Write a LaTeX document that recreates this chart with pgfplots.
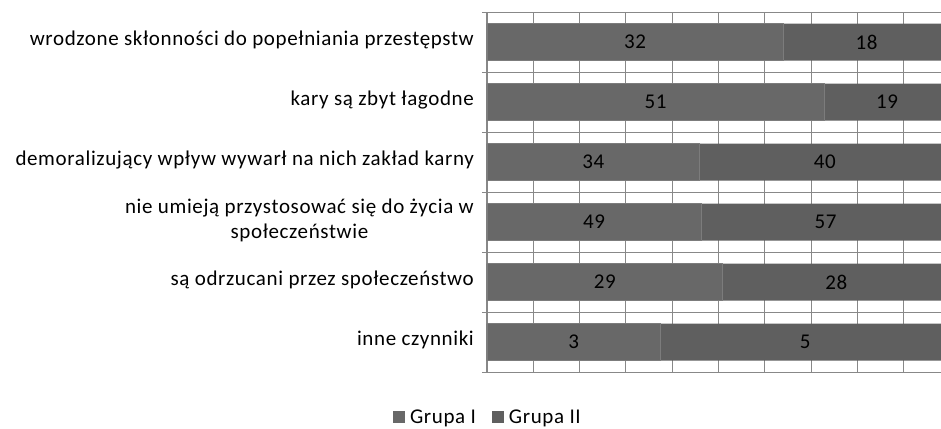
\documentclass[border=0pt]{standalone}
\usepackage{fontspec}
\setmainfont{Carlito}[LetterSpace=3]
\usepackage{pgfplots}
\pgfplotsset{compat=1.18}
\usepackage{pgfplotstable}
\definecolor{gA}{HTML}{686868}
\definecolor{gB}{HTML}{5F5F5F}
\definecolor{gridc}{HTML}{888888}
\definecolor{sepc}{HTML}{7C7C7C}

\pgfplotstableread{
y a b
5 32 18
4 51 19
3 34 40
2 49 57
1 29 28
0 3 5
}\data

\begin{document}
\begin{tikzpicture}
\begin{axis}[
  scale only axis, width=454pt, height=360pt,
  xmin=0, xmax=98.06, ymin=-0.5, ymax=5.5,
  /pgf/number format/assume math mode=true,
  axis y line*=left, axis x line*=bottom,
  x axis line style={draw=none},
  y axis line style={draw=gridc, line width=1.6pt},
  xtick={0,10,...,90}, xticklabels={},
  xmajorgrids,
  ytick={0,...,5},
  yticklabels={inne czynniki, są odrzucani przez społeczeństwo, {nie umieją przystosować się do życia w\\społeczeństwie}, demoralizujący wpływ wywarł na nich zakład karny, kary są zbyt łagodne, wrodzone skłonności do popełniania przestępstw},
  minor ytick={-0.5,0.5,...,5.5},
  yminorgrids,
  major tick length=0pt, minor tick length=5pt, tick align=outside,
  tick style={draw=gridc, line width=0.8pt},
  grid style={draw=gridc, line width=0.8pt},
  minor grid style={draw=gridc, line width=0.8pt},
  yticklabel style={align=center, inner sep=0pt, xshift=-13pt, yshift=2pt, font=\fontsize{21}{25}\selectfont},
  legend style={at={(0.002,-0.125)}, anchor=center, draw=none, fill=none, legend columns=2,
    font=\fontsize{21}{25}\selectfont,
    /tikz/every even column/.append style={column sep=14pt}},
  legend cell align=left,
]
\addplot[xbar, bar width=37pt, bar shift=0pt, fill=gB, draw=none, forget plot]
  table[x expr=100, y=y]{\data};
\addplot[xbar, bar width=37pt, bar shift=0pt, fill=gA, draw=sepc, line width=0.6pt, forget plot]
  table[x expr={\thisrow{a}/(\thisrow{a}+\thisrow{b})*100}, y=y]{\data};
\addplot[draw=none, mark=none, nodes near coords, point meta=explicit,
  nodes near coords style={anchor=center, text=black, font=\fontsize{21}{25}\selectfont}, forget plot]
  table[x expr={\thisrow{a}/(\thisrow{a}+\thisrow{b})*50}, y=y, meta=a]{\data};
\addplot[draw=none, mark=none, nodes near coords, point meta=explicit,
  nodes near coords style={anchor=center, text=black, font=\fontsize{21}{25}\selectfont}, forget plot]
  table[x expr={50+\thisrow{a}/(\thisrow{a}+\thisrow{b})*50}, y=y, meta=b]{\data};
\addlegendimage{legend image code/.code={\fill[gA, draw=none] (0pt,-6pt) rectangle (12pt,6pt); \path[draw=none, fill=none] (15pt,0pt) circle[radius=0pt];}}
\addlegendentry{Grupa I}
\addlegendimage{legend image code/.code={\fill[gB, draw=none] (0pt,-6pt) rectangle (12pt,6pt); \path[draw=none, fill=none] (15pt,0pt) circle[radius=0pt];}}
\addlegendentry{Grupa II}
\end{axis}
\pgfresetboundingbox
\useasboundingbox (current axis.south west) ++(-487pt,-56pt) rectangle ++(941pt,428pt);
\end{tikzpicture}
\end{document}
